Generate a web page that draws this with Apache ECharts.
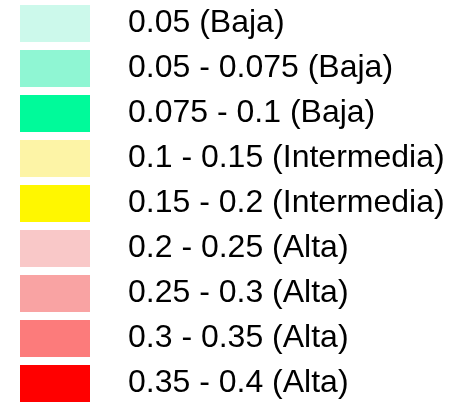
<!DOCTYPE html>
<html>
<head>
<meta charset="utf-8">
<script src="https://cdn.jsdelivr.net/npm/echarts@6/dist/echarts.min.js"></script>
<style>
  html, body { margin: 0; padding: 0; background: #fff; }
  #main { width: 449px; height: 403px; }
</style>
</head>
<body>
<div id="main"></div>
<script>
var chartDom = document.getElementById('main');
var myChart = echarts.init(chartDom);
var option;

// rangos y colores de la leyenda
var labels = [
  '0.05 (Baja)',
  '0.05 - 0.075 (Baja)',
  '0.075 - 0.1 (Baja)',
  '0.1 - 0.15 (Intermedia)',
  '0.15 - 0.2 (Intermedia)',
  '0.2 - 0.25 (Alta)',
  '0.25 - 0.3 (Alta)',
  '0.3 - 0.35 (Alta)',
  '0.35 - 0.4 (Alta)'
];
var colors = [
  '#ccf9eb', '#8ff6d3', '#00fa9a',
  '#fdf4a6', '#fff700',
  '#f9c8c8', '#f9a3a3', '#fc7b7b', '#ff0000'
];

var pieData = labels.map(function (name, i) {
  return { name: name, value: 1, itemStyle: { color: colors[i] } };
});

option = {
  animation: false,
  legend: {
    orient: 'vertical',
    left: 20,
    top: 5,
    padding: 0,
    itemWidth: 70,
    itemHeight: 37,
    itemGap: 8,
    icon: 'rect',
    selectedMode: false,
    data: labels,
    textStyle: {
      fontFamily: 'Liberation Sans, Arial, sans-serif',
      fontSize: 32,
      color: '#000',
      lineHeight: 37,
      padding: [0, 0, 0, 33]
    }
  },
  series: [
    {
      type: 'pie',
      radius: [0, 0],
      center: [-200, -200],
      label: { show: false },
      silent: true,
      data: pieData
    }
  ]
};

myChart.setOption(option);
</script>
</body>
</html>
